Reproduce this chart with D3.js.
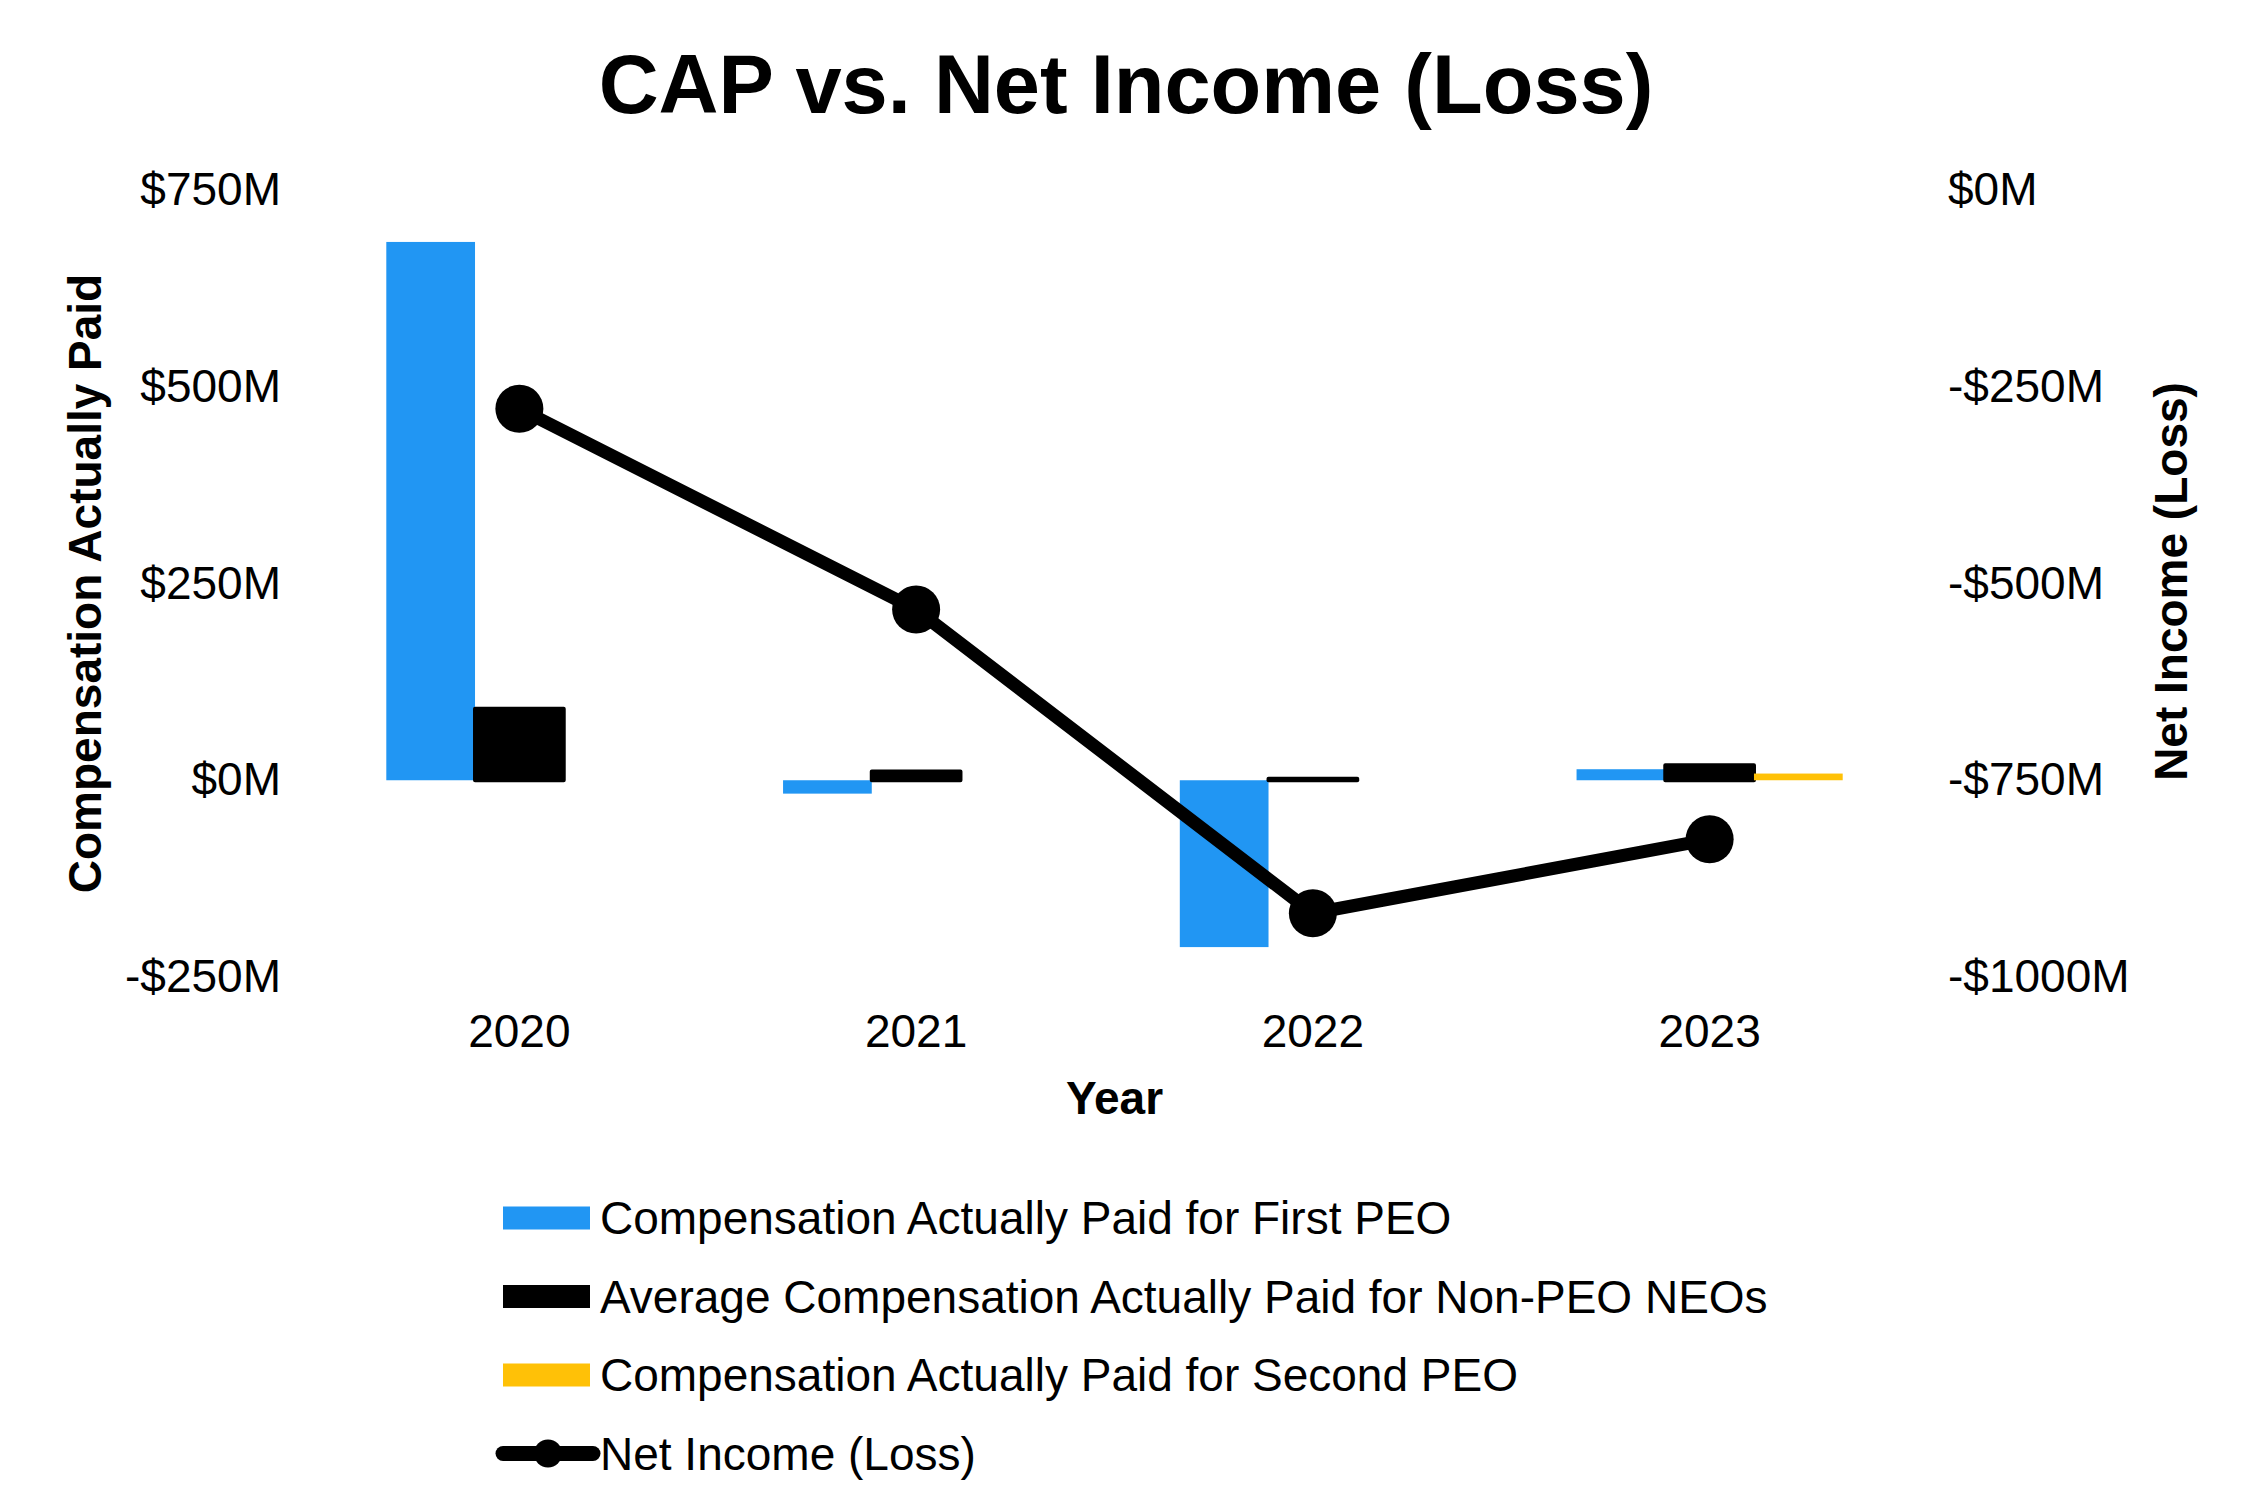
<!DOCTYPE html>
<html>
<head>
<meta charset="utf-8">
<script src="https://cdn.jsdelivr.net/npm/d3@7"></script>
<style>
  body { margin: 0; background: #fff; }
  svg { display: block; font-family: "Liberation Sans", Arial, sans-serif; }
</style>
</head>
<body>
<svg id="chart"></svg>
<script>
// Chart data (values in $M)
const years = ["2020", "2021", "2022", "2023"];
const firstPeo = [684, -17, -212, 14];
const nonPeoAvg = [91, 11, 2, 19];
const secondPeo = [null, null, null, 8.5];
const netIncome = [-278, -533, -919, -825];

const leftTicks = [750, 500, 250, 0, -250];
const rightTicks = [0, -250, -500, -750, -1000];

const seriesNames = [
  "Compensation Actually Paid for First PEO",
  "Average Compensation Actually Paid for Non-PEO NEOs",
  "Compensation Actually Paid for Second PEO",
  "Net Income (Loss)"
];
const seriesColors = ["#2196F3", "#000000", "#FFC107", "#000000"];

const width = 2252;
const height = 1512;
const margin = { top: 190, right: 344, bottom: 535, left: 321 };

const svg = d3.select("#chart")
  .attr("width", width)
  .attr("height", height);

// Scales
const x = d3.scaleBand()
  .domain(years)
  .range([margin.left, width - margin.right]);

const yLeft = d3.scaleLinear()
  .domain([-250, 750])
  .range([height - margin.bottom, margin.top]);

const yRight = d3.scaleLinear()
  .domain([-1000, 0])
  .range([height - margin.bottom, margin.top]);

const barW = x.bandwidth() * 0.2236;
const fmt = d => d < 0 ? `-$${Math.abs(d)}M` : `$${d}M`;

// Title
svg.append("text")
  .attr("x", width / 2)
  .attr("y", 113)
  .attr("text-anchor", "middle")
  .style("font-size", "83px")
  .style("font-weight", "bold")
  .text("CAP vs. Net Income (Loss)");

// Axes (labels only)
const leftAxis = svg.append("g")
  .attr("transform", `translate(${margin.left},0)`)
  .call(d3.axisLeft(yLeft).tickValues(leftTicks).tickSize(0).tickPadding(40).tickFormat(fmt));

const rightAxis = svg.append("g")
  .attr("transform", `translate(${width - margin.right},0)`)
  .call(d3.axisRight(yRight).tickValues(rightTicks).tickSize(0).tickPadding(40).tickFormat(fmt));

const bottomAxis = svg.append("g")
  .attr("transform", `translate(0,${height - margin.bottom})`)
  .call(d3.axisBottom(x).tickSize(0).tickPadding(37));

[leftAxis, rightAxis, bottomAxis].forEach(g => {
  g.select(".domain").remove();
  g.selectAll("text")
    .style("font-size", "46px")
    .style("font-family", "'Liberation Sans', Arial, sans-serif")
    .attr("fill", "#000");
});

// Axis titles
svg.append("text")
  .attr("transform", `translate(89,${(margin.top + height - margin.bottom) / 2}) rotate(-90)`)
  .attr("text-anchor", "middle")
  .attr("dominant-baseline", "middle")
  .style("font-size", "46px")
  .style("font-weight", "bold")
  .text("Compensation Actually Paid");

svg.append("text")
  .attr("transform", `translate(2175,${(margin.top + height - margin.bottom) / 2 - 2}) rotate(-90)`)
  .attr("text-anchor", "middle")
  .attr("dominant-baseline", "middle")
  .style("font-size", "46px")
  .style("font-weight", "bold")
  .text("Net Income (Loss)");

svg.append("text")
  .attr("x", (margin.left + width - margin.right) / 2)
  .attr("y", 1114)
  .attr("text-anchor", "middle")
  .style("font-size", "46px")
  .style("font-weight", "bold")
  .text("Year");

// Bars: three per year, black one centred on the year
const barSeries = [firstPeo, nonPeoAvg, secondPeo];
const bars = svg.append("g").attr("class", "bars");

barSeries.forEach((values, si) => {
  bars.selectAll(`rect.s${si}`)
    .data(years.map((yr, i) => ({ yr, v: values[i] })).filter(d => d.v !== null))
    .enter()
    .append("rect")
    .attr("class", `s${si}`)
    .attr("x", d => x(d.yr) + x.bandwidth() / 2 - 1.5 * barW + si * barW)
    .attr("y", d => yLeft(Math.max(0, d.v)))
    .attr("width", barW)
    .attr("height", d => Math.abs(yLeft(d.v) - yLeft(0)))
    .attr("fill", seriesColors[si])
    .attr("stroke", si === 1 ? "#000" : "none")
    .attr("stroke-width", si === 1 ? 4 : 0)
    .attr("stroke-linejoin", "round");
});

// Net income line on the right axis
const line = d3.line()
  .x((d, i) => x(years[i]) + x.bandwidth() / 2)
  .y(d => yRight(d));

svg.append("path")
  .datum(netIncome)
  .attr("d", line)
  .attr("fill", "none")
  .attr("stroke", "#000")
  .attr("stroke-width", 13);

svg.append("g")
  .selectAll("circle")
  .data(netIncome)
  .enter()
  .append("circle")
  .attr("cx", (d, i) => x(years[i]) + x.bandwidth() / 2)
  .attr("cy", d => yRight(d))
  .attr("r", 24)
  .attr("fill", "#000");

// Legend
const legend = svg.append("g").attr("transform", "translate(503,1218)");
const rowH = 78.5;

seriesNames.forEach((name, i) => {
  const row = legend.append("g").attr("transform", `translate(0,${i * rowH})`);
  if (i < 3) {
    row.append("rect")
      .attr("x", 0)
      .attr("y", -11.5)
      .attr("width", 87)
      .attr("height", 23)
      .attr("fill", seriesColors[i]);
  } else {
    row.append("line")
      .attr("x1", 0).attr("x2", 90)
      .attr("y1", 0).attr("y2", 0)
      .attr("stroke", "#000")
      .attr("stroke-width", 15)
      .attr("stroke-linecap", "round");
    row.append("circle")
      .attr("cx", 45)
      .attr("cy", 0)
      .attr("r", 14)
      .attr("fill", "#000");
  }
  row.append("text")
    .attr("x", 97)
    .attr("y", 0)
    .attr("dominant-baseline", "central")
    .style("font-size", "46px")
    .text(name);
});
</script>
</body>
</html>
